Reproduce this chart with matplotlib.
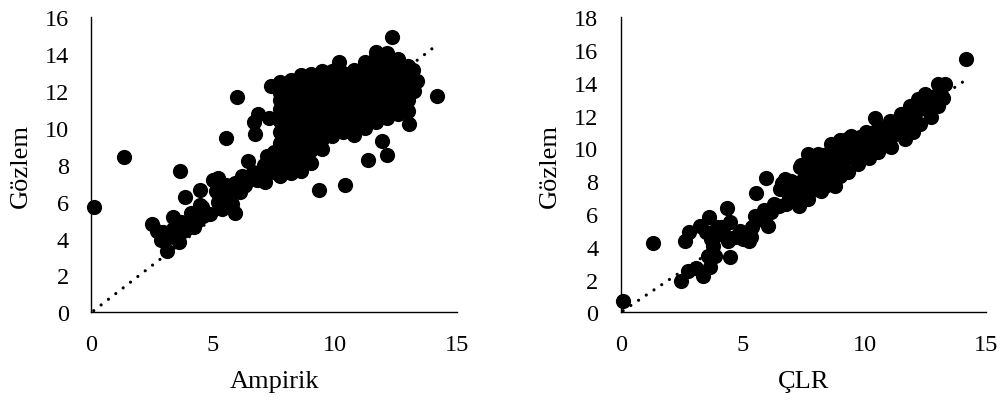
import matplotlib
matplotlib.use("Agg")
import matplotlib.pyplot as plt

plt.rcParams['font.family'] = ['Liberation Serif', 'DejaVu Serif']

# Ampirik - Gozlem (sol grafik)
amp_x = [0.1, 1.35, 3.63, 3.85, 5.98, 5.53, 6.7, 6.68, 6.86, 7.28, 7.38, 12.33, 14.2, 13.04, 11.37, 12.15, 11.92, 9.35, 10.43, 10.18,
         2.49, 3.09, 2.85, 3.6, 3.37, 5.9, 4.46, 5.2, 5.0, 6.17, 6.1, 6.45, 7.13,
         2.68, 2.95, 3.37, 3.7, 3.9, 4.3, 4.1, 4.46, 4.87, 5.35, 5.28, 5.7, 5.76, 5.55, 6.65, 6.8, 7.2,
         3.2, 3.55, 4.0, 4.2, 4.6, 5.1, 5.6, 5.9, 6.3, 6.7, 7.0, 7.3, 7.5, 7.3,
         5.2, 4.55, 3.75, 6.0, 7.5, 7.1]
amp_y = [5.7, 8.43, 7.69, 6.27, 11.7, 9.46, 9.67, 10.3, 10.76, 10.54, 12.3, 14.92, 11.72, 10.2, 8.28, 8.52, 9.3, 6.64, 6.93, 13.6,
         4.79, 3.35, 3.94, 3.8, 5.15, 5.37, 6.65, 7.3, 7.2, 7.4, 6.55, 8.2, 7.05,
         4.43, 4.35, 4.5, 4.9, 4.5, 4.9, 5.4, 5.8, 5.33, 5.6, 6.3, 6.5, 5.9, 6.9, 7.6, 7.15, 8.5,
         4.1, 4.3, 4.9, 4.6, 5.2, 6.6, 6.3, 7.0, 6.9, 7.3, 7.6, 7.9, 8.7, 8.5,
         6.0, 5.7, 4.4, 6.9, 7.6, 8.0]

# yogun bolge, sutun sutun
amp_core_x = [7.75, 7.75, 7.75, 7.75, 7.75, 7.75, 7.75, 7.75, 7.75, 7.75, 7.75,
              8.2, 8.2, 8.2, 8.2, 8.2, 8.2, 8.2, 8.2, 8.2, 8.2, 8.2, 8.2,
              8.6, 8.6, 8.6, 8.6, 8.6, 8.6, 8.6, 8.6, 8.6, 8.6, 8.6, 8.6,
              9.0, 9.0, 9.0, 9.0, 9.0, 9.0, 9.0, 9.0, 9.0, 9.0, 9.0,
              9.45, 9.45, 9.45, 9.45, 9.45, 9.45, 9.45, 9.45, 9.45, 9.45,
              9.9, 9.9, 9.9, 9.9, 9.9, 9.9, 9.9, 9.9, 9.9,
              10.35, 10.35, 10.35, 10.35, 10.35, 10.35, 10.35, 10.35,
              10.8, 10.8, 10.8, 10.8, 10.8, 10.8, 10.8, 10.8, 10.8,
              11.25, 11.25, 11.25, 11.25, 11.25, 11.25, 11.25, 11.25, 11.25,
              11.7, 11.7, 11.7, 11.7, 11.7, 11.7, 11.7, 11.7, 11.7, 11.7,
              12.15, 12.15, 12.15, 12.15, 12.15, 12.15, 12.15, 12.15, 12.15, 12.15,
              12.6, 12.6, 12.6, 12.6, 12.6, 12.6, 12.6, 12.6,
              13.0, 13.0, 13.0, 13.0, 13.0, 13.0,
              13.35, 13.25, 13.2]
amp_core_y = [7.4, 8.0, 8.6, 9.2, 9.8, 10.4, 11.0, 11.5, 11.9, 12.2, 12.5,
              7.55, 8.1, 8.6, 9.1, 9.6, 10.1, 10.6, 11.1, 11.6, 12.0, 12.4, 12.6,
              7.65, 8.2, 8.7, 9.2, 9.7, 10.2, 10.7, 11.2, 11.7, 12.1, 12.5, 12.85,
              8.1, 8.8, 9.4, 10.0, 10.5, 11.0, 11.5, 12.0, 12.4, 12.7, 12.9,
              8.85, 9.4, 9.9, 10.4, 10.9, 11.4, 11.9, 12.4, 12.8, 13.1,
              9.55, 10.0, 10.5, 11.0, 11.5, 12.0, 12.5, 12.9, 13.1,
              9.8, 10.3, 10.8, 11.3, 11.8, 12.3, 12.7, 13.0,
              9.6, 10.1, 10.6, 11.1, 11.6, 12.1, 12.6, 12.95, 13.15,
              10.0, 10.5, 11.0, 11.5, 12.0, 12.5, 13.0, 13.4, 13.6,
              10.3, 10.7, 11.2, 11.7, 12.2, 12.7, 13.1, 13.5, 13.85, 14.1,
              10.55, 11.0, 11.5, 12.0, 12.5, 13.0, 13.4, 13.7, 13.95, 14.05,
              10.75, 11.2, 11.7, 12.2, 12.7, 13.1, 13.5, 13.75,
              10.9, 11.5, 12.0, 12.5, 13.0, 13.35,
              12.55, 12.0, 13.15]
amp_trend_x = [0.1, 14.07]
amp_trend_y = [0.09, 14.38]

# CLR - Gozlem (sag grafik)
clr_x = [14.17, 0.11, 1.33, 2.63, 2.8, 2.49, 2.76, 3.1, 3.38, 3.68, 3.58, 3.88, 4.47, 4.35, 4.47, 3.61, 3.24, 3.5, 3.86, 3.79, 4.4, 4.2, 4.88, 5.02, 5.26, 5.36,
         5.57, 5.98, 5.52, 5.87, 6.04, 5.7, 6.18, 6.73, 6.52, 6.5, 6.8, 7.32, 7.68, 8.23, 8.78, 7.07, 10.42,
         6.3, 6.9, 6.6, 7.0, 5.4, 5.9, 4.1, 4.7, 3.7, 3.95, 7.1, 6.9]
clr_y = [15.46, 0.71, 4.21, 4.37, 4.88, 1.93, 2.54, 2.68, 2.2, 2.75, 3.46, 3.46, 3.4, 6.35, 5.53, 5.84, 5.29, 4.88, 4.68, 4.07, 4.37, 4.88, 4.98, 4.47, 4.37, 4.58,
         7.3, 8.18, 5.9, 6.26, 5.29, 5.7, 6.1, 8.13, 7.52, 6.5, 6.6, 6.5, 6.9, 7.42, 7.72, 7.1, 11.83,
         6.6, 7.0, 7.9, 8.0, 5.2, 5.6, 5.2, 4.6, 4.5, 5.2, 7.6, 7.4]

# yogun bant: ust kenar, orta, alt kenar
clr_core_x = [7.34, 7.68, 8.1, 8.64, 9.0, 9.46, 10.08, 10.6, 11.03, 11.5, 11.86, 12.2, 12.47, 13.0, 13.3,
              7.5, 7.8, 8.1, 8.4, 8.7, 9.0, 9.3, 9.6, 9.9, 10.2, 10.5, 10.8, 11.1, 11.4, 11.7, 12.0, 12.3, 12.6, 12.9, 13.1,
              7.5, 7.8, 8.1, 8.4, 8.7, 9.0, 9.3, 9.6, 9.9, 10.2, 10.5, 10.8, 11.1, 11.4, 11.7, 12.0,
              7.6, 8.0, 8.4, 8.71, 9.0, 9.33, 9.74, 10.2, 10.56, 11.1, 11.65, 12.0, 12.27, 12.74, 13.0, 13.22,
              7.4, 7.6, 7.9, 8.0, 8.3, 8.4, 8.6, 8.9, 7.9, 7.2, 9.3, 9.8, 10.4, 11.3]
clr_core_y = [8.85, 9.66, 9.66, 10.27, 10.5, 10.78, 10.98, 11.3, 11.69, 12.1, 12.6, 13.0, 13.32, 13.93, 13.93,
              8.2, 8.5, 8.7, 9.0, 9.4, 9.7, 9.95, 10.2, 10.4, 10.6, 10.8, 11.1, 11.2, 11.4, 11.7, 12.0, 12.4, 12.8, 13.2, 13.5,
              7.7, 7.8, 8.2, 8.5, 8.8, 9.1, 9.4, 9.7, 9.95, 10.1, 10.3, 10.5, 10.7, 11.0, 11.3, 11.6,
              7.2, 7.5, 7.7, 8.03, 8.3, 8.54, 9.05, 9.4, 9.76, 10.1, 10.58, 11.0, 11.5, 11.9, 12.6, 13.1,
              9.0, 9.1, 9.2, 9.0, 9.6, 9.4, 9.8, 10.1, 9.55, 7.9, 10.6, 10.7, 11.0, 11.7]
clr_trend_x = [0.1, 14.15]
clr_trend_y = [0.1, 14.17]

x_ticks = [0, 5, 10, 15]
amp_yticks = [0, 2, 4, 6, 8, 10, 12, 14, 16]
clr_yticks = [0, 2, 4, 6, 8, 10, 12, 14, 16, 18]

W, H = 1003, 402
fig = plt.figure(figsize=(W / 100, H / 100), dpi=100)


def panel(left, right, x, y, tx, ty, yticks, xlabel, xlabel_cx, ylabel_cx):
    top, bottom = 18.3, 313.3
    ax = fig.add_axes([left / W, 1 - bottom / H, (right - left) / W, (bottom - top) / H])
    ax.scatter(x, y, s=120, c="black", linewidths=0, clip_on=False, zorder=3)
    ax.plot(tx, ty, color="black", lw=2.3, linestyle=(0, (0.01, 2.9)),
            dash_capstyle="round", clip_on=False, zorder=4)
    ax.set_xlim(0, 15)
    ax.set_ylim(0, yticks[-1])
    ax.set_xticks(x_ticks)
    ax.set_yticks(yticks)
    ax.tick_params(length=0, labelsize=17.5)
    ax.tick_params(axis="x", pad=15.5)
    ax.tick_params(axis="y", pad=16)
    for s in ["top", "right"]:
        ax.spines[s].set_visible(False)
    for s in ["left", "bottom"]:
        ax.spines[s].set_linewidth(1.0)
        ax.spines[s].set_color("black")
    ax.patch.set_alpha(0)
    fig.text(xlabel_cx / W, 1 - 382 / H, xlabel, fontsize=19, ha="center", va="center")
    fig.text(ylabel_cx / W, 1 - 166 / H, "Gözlem", fontsize=19, rotation=90, ha="center", va="center")


panel(91.3, 456.7, amp_x + amp_core_x, amp_y + amp_core_y, amp_trend_x, amp_trend_y, amp_yticks, "Ampirik", 274, 21)
panel(620.7, 986.3, clr_x + clr_core_x, clr_y + clr_core_y, clr_trend_x, clr_trend_y, clr_yticks, "ÇLR", 804, 550)

fig.savefig("out.png", dpi=100)
